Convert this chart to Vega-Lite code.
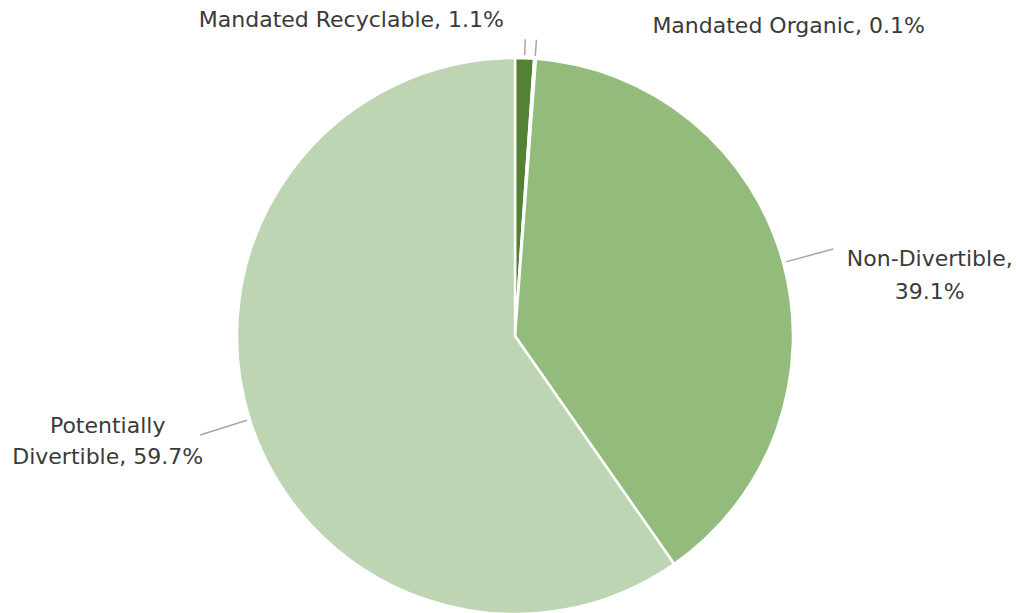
{
  "$schema": "https://vega.github.io/schema/vega-lite/v6.json",
  "autosize": {"type": "none"},
  "padding": {"left": 14, "top": 59, "right": 0, "bottom": 0},
  "width": 1002,
  "height": 554,
  "background": "white",
  "view": {"stroke": null},
  "data": {
    "values": [
      {"category": "Mandated Recyclable", "value": 1.1, "rank": 1, "label": "Mandated Recyclable, 1.1%"},
      {"category": "Mandated Organic", "value": 0.1, "rank": 2, "label": "Mandated Organic, 0.1%"},
      {"category": "Non-Divertible", "value": 39.1, "rank": 3, "label": "Non-Divertible,\n39.1%"},
      {"category": "Potentially Divertible", "value": 59.7, "rank": 4, "label": "Potentially\nDivertible, 59.7%"}
    ]
  },
  "transform": [
    {"stack": "value", "groupby": [], "sort": [{"field": "rank", "order": "ascending"}], "as": ["v0", "v1"]},
    {"calculate": "(datum.v0 + datum.v1) / 2", "as": "mid"}
  ],
  "layer": [
    {
      "mark": {"type": "arc", "outerRadius": 278, "stroke": "white", "strokeWidth": 2.5},
      "encoding": {
        "theta": {"field": "v0", "type": "quantitative", "scale": {"domain": [0, 100]}},
        "theta2": {"field": "v1"},
        "color": {
          "field": "category", "type": "nominal", "legend": null,
          "scale": {
            "domain": ["Mandated Recyclable", "Mandated Organic", "Non-Divertible", "Potentially Divertible"],
            "range": ["#548235", "#4f7d33", "#93BC7C", "#BDD5B3"]
          }
        }
      }
    },
    {
      "transform": [{"filter": "datum.rank >= 3"}],
      "mark": {"type": "arc", "innerRadius": 281, "outerRadius": 330, "stroke": "#a6a6a6", "strokeWidth": 1.5, "fill": null},
      "encoding": {
        "theta": {"field": "mid", "type": "quantitative", "scale": {"domain": [0, 100]}},
        "theta2": {"field": "mid"}
      }
    },
    {
      "transform": [{"filter": "datum.rank <= 2"}],
      "mark": {"type": "arc", "innerRadius": 281, "outerRadius": 297, "stroke": "#a6a6a6", "strokeWidth": 1.5, "fill": null},
      "encoding": {
        "theta": {"field": "mid", "type": "quantitative", "scale": {"domain": [0, 100]}},
        "theta2": {"field": "mid"}
      }
    },
    {
      "transform": [{"filter": "datum.rank == 1"}],
      "mark": {"type": "text", "radius": 316, "align": "right", "baseline": "middle", "dx": -22, "dy": 0, "font": "DejaVu Sans", "fontSize": 22, "color": "#3a3a3a"},
      "encoding": {
        "theta": {"field": "mid", "type": "quantitative", "scale": {"domain": [0, 100]}},
        "text": {"field": "label"}
      }
    },
    {
      "transform": [{"filter": "datum.rank == 2"}],
      "mark": {"type": "text", "radius": 310, "align": "left", "baseline": "middle", "dx": 115, "dy": -1, "font": "DejaVu Sans", "fontSize": 22, "color": "#3a3a3a"},
      "encoding": {
        "theta": {"field": "mid", "type": "quantitative", "scale": {"domain": [0, 100]}},
        "text": {"field": "label"}
      }
    },
    {
      "transform": [{"filter": "datum.rank == 3"}],
      "mark": {"type": "text", "radius": 430, "align": "center", "baseline": "middle", "dx": 0, "dy": 36, "lineBreak": "\n", "lineHeight": 33, "font": "DejaVu Sans", "fontSize": 22, "color": "#3a3a3a"},
      "encoding": {
        "theta": {"field": "mid", "type": "quantitative", "scale": {"domain": [0, 100]}},
        "text": {"field": "label"}
      }
    },
    {
      "transform": [{"filter": "datum.rank == 4"}],
      "mark": {"type": "text", "radius": 427, "align": "center", "baseline": "middle", "dx": 0, "dy": -38, "lineBreak": "\n", "lineHeight": 31, "font": "DejaVu Sans", "fontSize": 22, "color": "#3a3a3a"},
      "encoding": {
        "theta": {"field": "mid", "type": "quantitative", "scale": {"domain": [0, 100]}},
        "text": {"field": "label"}
      }
    }
  ]
}
